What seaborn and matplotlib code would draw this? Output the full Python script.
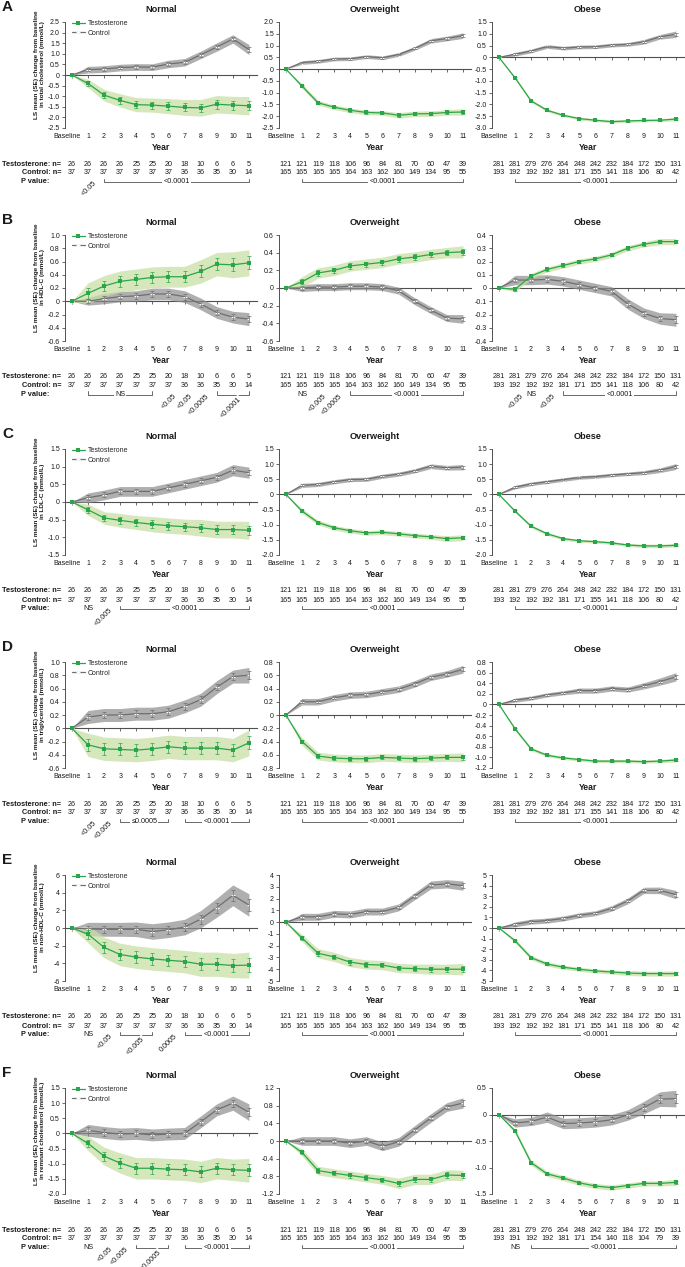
import numpy as np
import pandas as pd
import matplotlib
matplotlib.use("Agg")
import matplotlib.pyplot as plt
import matplotlib.transforms as mtrans
import seaborn as sns

sns.set_theme(style="ticks")
plt.rcParams["font.family"] = ["Liberation Sans", "DejaVu Sans"]

# ---------------- data ----------------
YEARS = ["Baseline", "1", "2", "3", "4", "5", "6", "7", "8", "9", "10", "11"]
GROUPS = ["Normal", "Overweight", "Obese"]
LEGEND = ["Testosterone", "Control"]

N_NOR_T = [26, 26, 26, 26, 25, 25, 20, 18, 10, 6, 6, 5]
N_NOR_C = [37, 37, 37, 37, 37, 37, 37, 36, 36, 35, 30, 14]
N_OW_T = [121, 121, 119, 118, 106, 96, 84, 81, 70, 60, 47, 39]
N_OW_C = [165, 165, 165, 165, 164, 163, 162, 160, 149, 134, 95, 55]
N_OB_T = [281, 281, 279, 276, 264, 248, 242, 232, 184, 172, 150, 131]
N_OB_C = [193, 192, 192, 192, 181, 171, 155, 141, 118, 106, 80, 42]
N_OB_C_F = [193, 191, 192, 192, 181, 171, 154, 140, 118, 104, 79, 39]

# A: total cholesterol
A_NOR_T = [0, -0.40, -0.95, -1.20, -1.40, -1.42, -1.47, -1.53, -1.55, -1.38, -1.42, -1.45]
A_NOR_T_SE = [0, 0.10, 0.14, 0.16, 0.17, 0.17, 0.18, 0.19, 0.20, 0.21, 0.21, 0.22]
A_NOR_C = [0, 0.25, 0.28, 0.35, 0.38, 0.37, 0.52, 0.60, 0.95, 1.32, 1.70, 1.20]
A_NOR_C_SE = [0, 0.08, 0.08, 0.08, 0.08, 0.08, 0.09, 0.09, 0.09, 0.10, 0.10, 0.12]
A_OW_T = [0, -0.72, -1.43, -1.62, -1.75, -1.84, -1.86, -1.96, -1.90, -1.89, -1.84, -1.82]
A_OW_T_SE = [0, 0.05, 0.05, 0.05, 0.05, 0.05, 0.05, 0.06, 0.06, 0.06, 0.06, 0.07]
A_OW_C = [0, 0.28, 0.33, 0.43, 0.44, 0.53, 0.48, 0.62, 0.88, 1.20, 1.30, 1.42]
A_OW_C_SE = [0, 0.04, 0.04, 0.04, 0.04, 0.04, 0.04, 0.04, 0.04, 0.05, 0.05, 0.06]
A_OB_T = [0, -0.87, -1.85, -2.25, -2.46, -2.60, -2.67, -2.73, -2.70, -2.68, -2.67, -2.62]
A_OB_T_SE = [0, 0.03, 0.03, 0.03, 0.03, 0.03, 0.03, 0.03, 0.03, 0.03, 0.03, 0.04]
A_OB_C = [0, 0.13, 0.27, 0.46, 0.39, 0.44, 0.45, 0.52, 0.55, 0.66, 0.87, 0.98]
A_OB_C_SE = [0, 0.04, 0.04, 0.04, 0.04, 0.04, 0.04, 0.04, 0.04, 0.05, 0.05, 0.07]

# B: HDL-C
B_NOR_T = [0, 0.12, 0.23, 0.30, 0.33, 0.36, 0.37, 0.37, 0.45, 0.56, 0.55, 0.58]
B_NOR_T_SE = [0, 0.08, 0.08, 0.08, 0.08, 0.08, 0.08, 0.08, 0.09, 0.09, 0.10, 0.10]
B_NOR_C = [0, 0.00, 0.04, 0.07, 0.08, 0.11, 0.11, 0.07, -0.04, -0.17, -0.24, -0.27]
B_NOR_C_SE = [0, 0.03, 0.04, 0.04, 0.04, 0.045, 0.045, 0.045, 0.045, 0.045, 0.045, 0.05]
B_OW_T = [0, 0.07, 0.17, 0.20, 0.25, 0.27, 0.29, 0.33, 0.35, 0.38, 0.40, 0.41]
B_OW_T_SE = [0, 0.03, 0.03, 0.03, 0.03, 0.03, 0.03, 0.03, 0.03, 0.03, 0.03, 0.035]
B_OW_C = [0, 0.00, 0.01, 0.01, 0.02, 0.02, 0.01, -0.03, -0.15, -0.25, -0.34, -0.35]
B_OW_C_SE = [0, 0.02, 0.02, 0.02, 0.02, 0.02, 0.02, 0.02, 0.02, 0.02, 0.02, 0.025]
B_OB_T = [0, -0.01, 0.09, 0.14, 0.17, 0.20, 0.22, 0.25, 0.30, 0.33, 0.35, 0.35]
B_OB_T_SE = [0, 0.01, 0.01, 0.01, 0.01, 0.01, 0.01, 0.01, 0.01, 0.01, 0.012, 0.012]
B_OB_C = [0, 0.06, 0.06, 0.065, 0.05, 0.025, 0.0, -0.025, -0.12, -0.19, -0.23, -0.24]
B_OB_C_SE = [0, 0.018, 0.018, 0.018, 0.018, 0.018, 0.018, 0.018, 0.02, 0.02, 0.022, 0.025]

# C: LDL-C
C_NOR_T = [0, -0.22, -0.45, -0.52, -0.58, -0.63, -0.67, -0.70, -0.73, -0.78, -0.78, -0.80]
C_NOR_T_SE = [0, 0.08, 0.09, 0.10, 0.10, 0.11, 0.11, 0.11, 0.12, 0.12, 0.12, 0.13]
C_NOR_C = [0, 0.12, 0.20, 0.30, 0.30, 0.30, 0.40, 0.50, 0.60, 0.70, 0.90, 0.83]
C_NOR_C_SE = [0, 0.07, 0.07, 0.07, 0.07, 0.07, 0.07, 0.07, 0.07, 0.07, 0.08, 0.08]
C_OW_T = [0, -0.55, -0.93, -1.10, -1.20, -1.27, -1.25, -1.30, -1.36, -1.40, -1.46, -1.43]
C_OW_T_SE = [0, 0.04, 0.04, 0.04, 0.04, 0.04, 0.04, 0.04, 0.04, 0.04, 0.05, 0.05]
C_OW_C = [0, 0.30, 0.33, 0.42, 0.49, 0.50, 0.60, 0.67, 0.78, 0.93, 0.88, 0.90]
C_OW_C_SE = [0, 0.035, 0.035, 0.035, 0.035, 0.035, 0.035, 0.035, 0.035, 0.04, 0.04, 0.045]
C_OB_T = [0, -0.55, -1.05, -1.30, -1.46, -1.53, -1.56, -1.60, -1.67, -1.70, -1.70, -1.68]
C_OB_T_SE = [0, 0.025, 0.025, 0.025, 0.025, 0.025, 0.025, 0.025, 0.025, 0.03, 0.03, 0.03]
C_OB_C = [0, 0.24, 0.35, 0.42, 0.49, 0.56, 0.59, 0.64, 0.68, 0.72, 0.80, 0.92]
C_OB_C_SE = [0, 0.03, 0.03, 0.03, 0.03, 0.03, 0.03, 0.03, 0.03, 0.035, 0.04, 0.05]

# D: triglycerides
D_NOR_T = [0, -0.25, -0.31, -0.32, -0.33, -0.31, -0.28, -0.30, -0.30, -0.30, -0.33, -0.22]
D_NOR_T_SE = [0, 0.09, 0.09, 0.09, 0.09, 0.09, 0.09, 0.09, 0.09, 0.09, 0.09, 0.10]
D_NOR_C = [0, 0.17, 0.20, 0.20, 0.22, 0.22, 0.25, 0.33, 0.43, 0.62, 0.78, 0.80]
D_NOR_C_SE = [0, 0.05, 0.05, 0.05, 0.05, 0.05, 0.05, 0.05, 0.05, 0.05, 0.05, 0.06]
D_OW_T = [0, -0.40, -0.62, -0.65, -0.66, -0.66, -0.64, -0.65, -0.66, -0.65, -0.64, -0.64]
D_OW_T_SE = [0, 0.03, 0.03, 0.03, 0.03, 0.03, 0.03, 0.03, 0.03, 0.03, 0.03, 0.035]
D_OW_C = [0, 0.20, 0.20, 0.26, 0.30, 0.31, 0.35, 0.39, 0.47, 0.57, 0.62, 0.69]
D_OW_C_SE = [0, 0.025, 0.025, 0.025, 0.025, 0.025, 0.025, 0.025, 0.025, 0.025, 0.025, 0.03]
D_OB_T = [0, -0.46, -0.84, -0.96, -1.01, -1.04, -1.07, -1.07, -1.07, -1.08, -1.07, -1.05]
D_OB_T_SE = [0, 0.015, 0.015, 0.015, 0.015, 0.015, 0.015, 0.015, 0.015, 0.015, 0.015, 0.02]
D_OB_C = [0, 0.08, 0.12, 0.18, 0.22, 0.26, 0.26, 0.30, 0.28, 0.35, 0.43, 0.52]
D_OB_C_SE = [0, 0.02, 0.02, 0.02, 0.02, 0.025, 0.025, 0.025, 0.025, 0.03, 0.035, 0.04]

# E: non-HDL-C
E_NOR_T = [0, -0.7, -2.2, -3.0, -3.3, -3.5, -3.65, -3.8, -4.1, -4.1, -4.25, -4.2]
E_NOR_T_SE = [0, 0.5, 0.6, 0.65, 0.65, 0.65, 0.65, 0.65, 0.7, 0.7, 0.7, 0.75]
E_NOR_C = [0, -0.1, -0.15, -0.15, -0.15, -0.4, -0.2, 0.1, 1.0, 2.3, 3.7, 2.6]
E_NOR_C_SE = [0, 0.38, 0.4, 0.4, 0.42, 0.45, 0.45, 0.45, 0.5, 0.55, 0.6, 0.65]
E_OW_T = [0, -1.35, -2.65, -2.95, -3.4, -3.6, -3.65, -3.9, -3.95, -4.0, -4.0, -4.0]
E_OW_T_SE = [0, 0.15, 0.2, 0.2, 0.2, 0.2, 0.2, 0.2, 0.2, 0.22, 0.22, 0.25]
E_OW_C = [0, 0.45, 0.45, 0.7, 0.65, 0.9, 0.9, 1.25, 2.2, 3.15, 3.25, 3.1]
E_OW_C_SE = [0, 0.15, 0.15, 0.15, 0.15, 0.15, 0.15, 0.15, 0.15, 0.17, 0.18, 0.2]
E_OB_T = [0, -1.2, -2.8, -3.4, -3.7, -3.9, -4.05, -4.15, -4.25, -4.3, -4.3, -4.3]
E_OB_T_SE = [0, 0.1, 0.1, 0.1, 0.1, 0.1, 0.1, 0.1, 0.12, 0.12, 0.12, 0.13]
E_OB_C = [0, 0.35, 0.6, 0.7, 0.9, 1.2, 1.4, 1.85, 2.55, 3.55, 3.55, 3.15]
E_OB_C_SE = [0, 0.12, 0.12, 0.12, 0.12, 0.12, 0.12, 0.13, 0.14, 0.15, 0.16, 0.2]

# F: remnant cholesterol
F_NOR_T = [0, -0.33, -0.75, -0.98, -1.15, -1.15, -1.18, -1.20, -1.27, -1.15, -1.20, -1.22]
F_NOR_T_SE = [0, 0.12, 0.15, 0.17, 0.18, 0.18, 0.18, 0.18, 0.18, 0.18, 0.18, 0.2]
F_NOR_C = [0, 0.10, 0.03, -0.02, 0.00, -0.05, -0.02, 0.00, 0.38, 0.78, 1.00, 0.70]
F_NOR_C_SE = [0, 0.1, 0.1, 0.1, 0.1, 0.1, 0.1, 0.1, 0.1, 0.1, 0.12, 0.14]
F_OW_T = [0, -0.26, -0.67, -0.73, -0.78, -0.83, -0.88, -0.96, -0.87, -0.87, -0.77, -0.78]
F_OW_T_SE = [0, 0.04, 0.05, 0.05, 0.05, 0.05, 0.05, 0.06, 0.06, 0.06, 0.06, 0.06]
F_OW_C = [0, 0.00, 0.00, 0.00, -0.05, 0.00, -0.12, -0.02, 0.25, 0.52, 0.77, 0.86]
F_OW_C_SE = [0, 0.05, 0.05, 0.05, 0.05, 0.05, 0.05, 0.05, 0.05, 0.05, 0.05, 0.06]
F_OB_T = [0, -0.31, -0.91, -1.12, -1.20, -1.29, -1.35, -1.38, -1.34, -1.30, -1.30, -1.28]
F_OB_T_SE = [0, 0.02, 0.025, 0.025, 0.025, 0.025, 0.025, 0.025, 0.025, 0.025, 0.025, 0.03]
F_OB_C = [0, -0.16, -0.13, -0.05, -0.17, -0.16, -0.14, -0.10, -0.01, 0.13, 0.29, 0.30]
F_OB_C_SE = [0, 0.04, 0.04, 0.05, 0.05, 0.05, 0.05, 0.05, 0.05, 0.06, 0.07, 0.08]

# y-axis tick values
A_YT = [[-2.5, -2.0, -1.5, -1.0, -0.5, 0, 0.5, 1.0, 1.5, 2.0, 2.5],
        [-2.5, -2.0, -1.5, -1.0, -0.5, 0, 0.5, 1.0, 1.5, 2.0],
        [-3.0, -2.5, -2.0, -1.5, -1.0, -0.5, 0, 0.5, 1.0, 1.5]]
B_YT = [[-0.6, -0.4, -0.2, 0, 0.2, 0.4, 0.6, 0.8, 1.0],
        [-0.6, -0.4, -0.2, 0, 0.2, 0.4, 0.6],
        [-0.4, -0.3, -0.2, -0.1, 0, 0.1, 0.2, 0.3, 0.4]]
C_YT = [[-1.5, -1.0, -0.5, 0, 0.5, 1.0, 1.5],
        [-2.0, -1.5, -1.0, -0.5, 0, 0.5, 1.0, 1.5],
        [-2.0, -1.5, -1.0, -0.5, 0, 0.5, 1.0, 1.5]]
D_YT = [[-0.6, -0.4, -0.2, 0, 0.2, 0.4, 0.6, 0.8, 1.0],
        [-0.8, -0.6, -0.4, -0.2, 0, 0.2, 0.4, 0.6, 0.8],
        [-1.2, -1.0, -0.8, -0.6, -0.4, -0.2, 0, 0.2, 0.4, 0.6, 0.8]]
E_YT = [[-6, -4, -2, 0, 2, 4, 6],
        [-5, -4, -3, -2, -1, 0, 1, 2, 3, 4],
        [-5, -4, -3, -2, -1, 0, 1, 2, 3, 4, 5]]
F_YT = [[-2.0, -1.5, -1.0, -0.5, 0, 0.5, 1.0, 1.5],
        [-1.2, -0.8, -0.4, 0, 0.4, 0.8, 1.2],
        [-1.5, -1.0, -0.5, 0, 0.5]]

YLABELS = ["in total cholesterol (mmol/L)", "in HDL-C (mmol/L)", "in LDL-C (mmol/L)",
           "in triglycerides (mmol/L)", "in non-HDL-C (mmol/L)", "in remnant cholesterol (mmol/L)"]
LETTERS = ["A", "B", "C", "D", "E", "F"]

# P-value annotations: ('rot', year, text) rotated label; ('txt', year, text);
# ('br', y0, y1, text) bracket with centred label; ('brrot', y0, y1, text) bracket with rotated label
P_ALL = [("br", 1, 11, "<0.0001")]
A_P = [[("rot", 1, "<0.05"), ("br", 2, 11, "<0.0001")], P_ALL, P_ALL]
B_P = [[("br", 1, 5, "NS"), ("rot", 6, "<0.05"), ("rot", 7, "<0.05"), ("rot", 8, "<0.0005"),
        ("brrot", 9, 11, "<0.0001")],
       [("txt", 1, "NS"), ("rot", 2, "<0.005"), ("rot", 3, "<0.0005"), ("br", 4, 11, "<0.0001")],
       [("rot", 1, "<0.05"), ("txt", 2, "NS"), ("rot", 3, "<0.05"), ("br", 4, 11, "<0.0001")]]
C_P = [[("txt", 1, "NS"), ("rot", 2, "<0.005"), ("br", 3, 11, "<0.0001")], P_ALL, P_ALL]
D_P = [[("rot", 1, "<0.05"), ("rot", 2, "<0.005"), ("br", 3, 6, "\u22640.0005"), ("br", 7, 11, "<0.0001")],
       P_ALL, P_ALL]
E_P = [[("txt", 1, "NS"), ("rot", 2, "<0.05"), ("brrot", 3, 5, "<0.005"), ("rot", 6, "0.0005"),
        ("br", 7, 11, "<0.0001")], P_ALL, P_ALL]
F_P = [[("txt", 1, "NS"), ("rot", 2, "<0.05"), ("rot", 3, "<0.005"), ("brrot", 4, 6, "<0.0005"),
        ("br", 7, 11, "<0.0001")], P_ALL,
       [("txt", 1, "NS"), ("br", 2, 11, "<0.0001")]]

ROWS = [
    [(A_NOR_T, A_NOR_T_SE, A_NOR_C, A_NOR_C_SE), (A_OW_T, A_OW_T_SE, A_OW_C, A_OW_C_SE), (A_OB_T, A_OB_T_SE, A_OB_C, A_OB_C_SE)],
    [(B_NOR_T, B_NOR_T_SE, B_NOR_C, B_NOR_C_SE), (B_OW_T, B_OW_T_SE, B_OW_C, B_OW_C_SE), (B_OB_T, B_OB_T_SE, B_OB_C, B_OB_C_SE)],
    [(C_NOR_T, C_NOR_T_SE, C_NOR_C, C_NOR_C_SE), (C_OW_T, C_OW_T_SE, C_OW_C, C_OW_C_SE), (C_OB_T, C_OB_T_SE, C_OB_C, C_OB_C_SE)],
    [(D_NOR_T, D_NOR_T_SE, D_NOR_C, D_NOR_C_SE), (D_OW_T, D_OW_T_SE, D_OW_C, D_OW_C_SE), (D_OB_T, D_OB_T_SE, D_OB_C, D_OB_C_SE)],
    [(E_NOR_T, E_NOR_T_SE, E_NOR_C, E_NOR_C_SE), (E_OW_T, E_OW_T_SE, E_OW_C, E_OW_C_SE), (E_OB_T, E_OB_T_SE, E_OB_C, E_OB_C_SE)],
    [(F_NOR_T, F_NOR_T_SE, F_NOR_C, F_NOR_C_SE), (F_OW_T, F_OW_T_SE, F_OW_C, F_OW_C_SE), (F_OB_T, F_OB_T_SE, F_OB_C, F_OB_C_SE)],
]
ROW_YT = [A_YT, B_YT, C_YT, D_YT, E_YT, F_YT]
ROW_P = [A_P, B_P, C_P, D_P, E_P, F_P]

# ---------------- style / layout ----------------
GREEN = "#2aa64a"
GREEN_BAND = "#c8dfa5"
GRAY = "#6f6f6f"
GRAY_BAND = "#8e8e8e"
AXC = "#505050"
TXT = "#1a1a1a"
Z = 1.96

W, H = 685, 1267
COL_LEFT = [65, 279, 492]
COL_W = 192
ROW_TOP = [22, 235, 449, 662, 875, 1088]
ROW_H = 106
FS_TICK = 5.0
FS_N = 5.2

fig = plt.figure(figsize=(W / 100, H / 100), dpi=100)


def fy(px):
    return 1 - px / H


def fmt(v, integer):
    if v == 0:
        return "0"
    return f"{v:.0f}" if integer else f"{v:.1f}"


def draw_panel(ax, series, yt, pspec, nT, nC, legend, bottom_px):
    t, tse, c, cse = [np.asarray(a, float) for a in series]
    x = np.arange(len(YEARS))
    ax.fill_between(x, c - Z * cse, c + Z * cse, color=GRAY_BAND, alpha=0.7, lw=0, zorder=1)
    ax.fill_between(x, t - Z * tse, t + Z * tse, color=GREEN_BAND, alpha=0.75, lw=0, zorder=1.1)
    sns.lineplot(x=x, y=t, ax=ax, color=GREEN, marker="s", markersize=2.3, markeredgewidth=0,
                 linewidth=0.9, label=LEGEND[0], legend=False, errorbar=None, zorder=4)
    sns.lineplot(x=x, y=c, ax=ax, color=GRAY, marker="+", markersize=3.0, markeredgewidth=0.7,
                 linewidth=0.9, label=LEGEND[1], legend=False, errorbar=None, zorder=3)
    ax.errorbar(x[1:], t[1:], yerr=tse[1:], fmt="none", ecolor=GREEN, elinewidth=0.5,
                capsize=1.1, capthick=0.5, zorder=4)
    ax.errorbar(x[1:], c[1:], yerr=cse[1:], fmt="none", ecolor=GRAY, elinewidth=0.5,
                capsize=1.1, capthick=0.5, zorder=3)

    # zero line with year ticks
    sec = ax.secondary_xaxis(0, transform=ax.transData)
    sec.set_xticks(x)
    sec.tick_params(axis="x", length=2.2, width=0.6, color=AXC, labelbottom=False, direction="out")
    sec.spines["bottom"].set_color(AXC)
    sec.spines["bottom"].set_linewidth(0.8)

    integer = all(float(v).is_integer() for v in yt)
    ax.set_yticks(yt)
    ax.set_yticklabels([fmt(v, integer) for v in yt])
    ax.set_xticks(x)
    ax.set_xticklabels(YEARS)
    ax.tick_params(axis="x", length=0, pad=3.5, labelsize=FS_TICK, colors=TXT)
    ax.tick_params(axis="y", length=2.5, width=0.6, pad=1.2, labelsize=FS_TICK, colors=TXT, color=AXC)
    for s in ["top", "right", "bottom"]:
        ax.spines[s].set_visible(False)
    ax.spines["left"].set_color(AXC)
    ax.spines["left"].set_linewidth(0.7)
    ax.set_xlabel("Year", fontsize=6.2, fontweight="bold", labelpad=2.5, color=TXT)
    ax.set_ylabel("")
    lab0 = ax.get_xticklabels()[0]
    lab0.set_transform(lab0.get_transform() +
                       mtrans.ScaledTranslation(-5 / 100, 0, fig.dpi_scale_trans))

    tr = mtrans.blended_transform_factory(ax.transData, fig.transFigure)
    yT, yC, yP = bottom_px + 36, bottom_px + 45, bottom_px + 53.5
    for i in range(len(YEARS)):
        ax.text(i, fy(yT), str(nT[i]), transform=tr, ha="center", va="center", fontsize=FS_N, color=TXT)
        ax.text(i, fy(yC), str(nC[i]), transform=tr, ha="center", va="center", fontsize=FS_N, color=TXT)

    for item in pspec:
        kind = item[0]
        if kind == "txt":
            ax.text(item[1], fy(yP), item[2], transform=tr, ha="center", va="center",
                    fontsize=FS_N, color=TXT)
        elif kind == "rot":
            ax.text(item[1] + 0.3, fy(yP - 2), item[2], transform=tr, ha="right", va="top",
                    rotation=45, rotation_mode="anchor", fontsize=FS_N, color=TXT)
        else:
            x0, x1, lab = item[1], item[2], item[3]
            ax.plot([x0, x0, x1, x1], [fy(yP - 3), fy(yP), fy(yP), fy(yP - 3)], transform=tr,
                    color=AXC, lw=0.6, clip_on=False)
            if kind == "br":
                ax.text((x0 + x1) / 2, fy(yP), lab, transform=tr, ha="center", va="center",
                        fontsize=FS_N, color=TXT,
                        bbox=dict(boxstyle="square,pad=0.15", fc="white", ec="none"))
            else:
                ax.text((x0 + x1) / 2 + 0.3, fy(yP + 1), lab, transform=tr, ha="right", va="top",
                        rotation=45, rotation_mode="anchor", fontsize=FS_N, color=TXT,
                        bbox=dict(boxstyle="square,pad=0.1", fc="white", ec="none"))

    ax.set_xlim(-0.43, 11.5)
    ax.set_ylim(yt[0], yt[-1])
    if legend:
        ax.legend(loc="upper left", bbox_to_anchor=(0.03, 1.03), frameon=False, fontsize=5.0,
                  handlelength=1.8, handletextpad=0.5, labelspacing=0.35, borderpad=0.2,
                  borderaxespad=0)


N_T = [N_NOR_T, N_OW_T, N_OB_T]
for r in range(6):
    top = ROW_TOP[r]
    bottom = top + ROW_H
    n_c = [N_NOR_C, N_OW_C, N_OB_C_F if r == 5 else N_OB_C]
    for ci in range(3):
        ax = fig.add_axes([COL_LEFT[ci] / W, fy(bottom), COL_W / W, ROW_H / H])
        draw_panel(ax, ROWS[r][ci], ROW_YT[r][ci], ROW_P[r][ci], N_T[ci], n_c[ci],
                   legend=(ci == 0), bottom_px=bottom)
        ax.set_title(GROUPS[ci], fontsize=6.6, fontweight="bold", pad=7.5, color=TXT)
        if ci == 0:
            ax.set_ylabel("LS mean (SE) change from baseline\n" + YLABELS[r], fontsize=4.6,
                          fontweight="bold", linespacing=1.15, color=TXT)
            ax.yaxis.set_label_coords(-0.105, 0.6)
    fig.text(2 / W, fy(top - 15), LETTERS[r], fontsize=11, fontweight="bold", va="center", ha="left", color=TXT)
    fig.text(61 / W, fy(bottom + 36), "Testosterone: n=", ha="right", va="center",
             fontsize=5.3, fontweight="bold", color=TXT)
    fig.text(61 / W, fy(bottom + 45), "Control: n=", ha="right", va="center",
             fontsize=5.3, fontweight="bold", color=TXT)
    fig.text(21 / W, fy(bottom + 53.5), "P value:", ha="left", va="center",
             fontsize=5.3, fontweight="bold", color=TXT)

fig.savefig("out.png", dpi=100, facecolor="white")
